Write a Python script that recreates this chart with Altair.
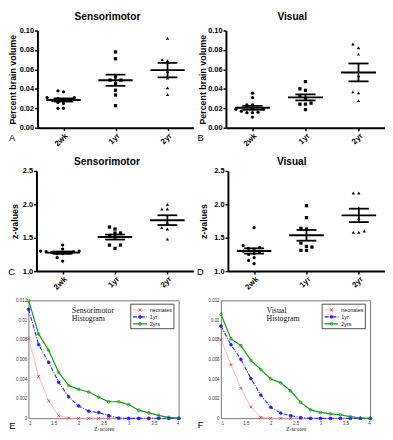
import json
import altair as alt
import numpy as np
import pandas as pd

# ---------------- data ----------------
groups = ["2wk", "1yr", "2yr"]
group_shapes = ["circle", "square", "triangle-up"]

# A: Sensorimotor, percent brain volume
sm_pbv_2wk = [0.038, 0.037, 0.031, 0.031, 0.030, 0.029, 0.028, 0.028, 0.026, 0.025, 0.020, 0.020]
sm_pbv_1yr = [0.078, 0.071, 0.0525, 0.049, 0.049, 0.0454, 0.0386, 0.0337, 0.0227]
sm_pbv_2yr = [0.092, 0.070, 0.069, 0.058, 0.051, 0.041, 0.034]

# B: Visual, percent brain volume
vis_pbv_2wk = [0.0355, 0.031, 0.0235, 0.0235, 0.019, 0.0195, 0.019, 0.017, 0.016, 0.0155, 0.0155, 0.011]
vis_pbv_1yr = [0.0474, 0.0401, 0.0385, 0.0329, 0.0296, 0.0253, 0.0243, 0.0243, 0.0187]
vis_pbv_2yr = [0.0862, 0.0823, 0.0757, 0.0534, 0.037, 0.036, 0.0279]

# C: Sensorimotor, z-values
sm_z_2wk = [1.39, 1.33, 1.30, 1.30, 1.28, 1.29, 1.29, 1.27, 1.26, 1.26, 1.20, 1.15]
sm_z_1yr = [1.66, 1.63, 1.57, 1.57, 1.53, 1.51, 1.39, 1.39, 1.34]
sm_z_2yr = [2.00, 1.93, 1.93, 1.72, 1.65, 1.63, 1.48]

# D: Visual, z-values
vis_z_2wk = [1.65, 1.38, 1.35, 1.34, 1.33, 1.30, 1.29, 1.26, 1.25, 1.20, 1.16, 1.11]
vis_z_1yr = [1.98, 1.80, 1.64, 1.63, 1.42, 1.37, 1.36, 1.31, 1.31]
vis_z_2yr = [2.17, 2.17, 1.95, 1.79, 1.60, 1.58, 1.58]

# E/F: histograms
z_scores = [1.0, 1.2, 1.4, 1.6, 1.8, 2.0, 2.2, 2.4, 2.6, 2.8, 3.0, 3.2, 3.4, 3.6, 3.8, 4.0]
series = ["neonates", "1yr", "2yrs"]
sm_hist_neonates = [0.0081, 0.00428, 0.00179, 0.00027, 0.00003, 0, 0, 0, 0, 0, 0, 0, 0, 0, 0, 0]
sm_hist_1yr = [0.0111, 0.0075, 0.0057, 0.00368, 0.00219, 0.00126, 0.00073, 0.0006, 0.00027, 0.00003, 0, 0, 0, 0, 0, 0]
sm_hist_2yrs = [0.0120, 0.00859, 0.00693, 0.00468, 0.00335, 0.00295, 0.00269, 0.00216, 0.00169, 0.00169,
                0.00139, 0.00083, 0.00056, 0.0003, 0.0001, 0.00002]
vis_hist_neonates = [0.0080, 0.00547, 0.00305, 0.00116, 0.0001, 0, 0, 0, 0, 0, 0, 0, 0, 0, 0, 0]
vis_hist_1yr = [0.0094, 0.0075, 0.0060, 0.00405, 0.00236, 0.00113, 0.00053, 0.00027, 0.00007, 0, 0, 0, 0, 0, 0, 0]
vis_hist_2yrs = [0.01058, 0.0081, 0.0074, 0.0059, 0.00498, 0.00401, 0.00362, 0.00279, 0.00163, 0.00086,
                 0.0006, 0.00046, 0.00036, 0.00017, 0.00003, 0]

line_colors = ["#f5a3b5", "#1f1fff", "#169a16"]
marker_colors = ["#ff1a1a", "#1f1fff", "#169a16"]
marker_fills = ["transparent", "#1f1fff", "transparent"]
marker_shapes = ["M-1,-1L1,1M-1,1L1,-1", "circle", "circle"]
line_dashes = [[1, 0], [4, 1.5, 1, 1.5], [1, 0]]
line_widths = [0.9, 1.2, 1.5]

SANS = "Liberation Sans, Arial, Helvetica, sans-serif"
SERIF = "Liberation Serif, Times New Roman, serif"


def one_row():
    return pd.DataFrame({"k": [0]})


def letter(ch, x, y):
    return alt.Chart(one_row()).mark_text(
        text=ch, align="left", baseline="alphabetic", font=SANS, fontSize=9.5, color="black"
    ).encode(x=alt.value(x), y=alt.value(y))


def swarm_slots(values, px_per_unit, diam=3.9):
    order = np.argsort(values, kind="stable")
    slots = [0] * len(values)
    placed = []
    for i in order:
        y = values[i] * px_per_unit
        for k in [0, -1, 1, -2, 2, -3, 3, -4, 4, -5, 5]:
            if not any(s == k and abs(py - y) < diam for py, s in placed):
                break
        slots[i] = k
        placed.append((y, k))
    return slots


def scatter_panel(lists, title, title_dx, ytitle, ytitle_x, ydom, yvals, yfmt,
                  width, d, plot_h, top, ch, ch_x, ch_dy):
    height = plot_h + top
    pxu = plot_h / (ydom[1] - ydom[0])
    rows = []
    for gi, (g, vals) in enumerate(zip(groups, lists)):
        for v, s in zip(vals, swarm_slots(vals, pxu)):
            rows.append({"group": g, "gi": gi, "value": v, "xp": gi + s * 0.105})
    pts = pd.DataFrame(rows)
    st = pts.groupby(["group", "gi"], sort=False)["value"].agg(["mean", "std", "count"]).reset_index()
    st["sem"] = st["std"] / np.sqrt(st["count"])
    st["lo"] = st["mean"] - st["sem"]
    st["hi"] = st["mean"] + st["sem"]
    st["m0"] = st["gi"] - 0.33
    st["m1"] = st["gi"] + 0.33
    st["c0"] = st["gi"] - 0.19
    st["c1"] = st["gi"] + 0.19

    xscale = alt.Scale(domain=[-0.5, 2.5], range=[d, width], nice=False, zero=False)
    yscale = alt.Scale(domain=ydom, range=[height, top], nice=False, zero=False)
    xaxis = alt.Axis(values=[0, 1, 2], labelExpr=json.dumps(groups) + "[datum.value]", title=None,
                     labelAngle=315, labelFont=SANS, labelFontSize=8, labelFontWeight="bold",
                     labelColor="black", domainColor="black", domainWidth=2, tickColor="black",
                     tickWidth=1.5, tickSize=3, grid=False, labelPadding=1)
    yaxis = alt.Axis(values=yvals, format=yfmt, title=ytitle, titleX=ytitle_x, titleY=top + plot_h / 2,
                     titleBaseline="alphabetic", titleFont=SANS, titleFontSize=9, titleFontWeight="bold",
                     titleColor="black", offset=-d, labelFont=SANS, labelFontSize=7.5,
                     labelFontWeight="bold", labelColor="black", domainColor="black", domainWidth=2,
                     tickColor="black", tickWidth=1.5, tickSize=3, grid=False, labelPadding=1)

    def X(f):
        return alt.X(f, scale=xscale, axis=xaxis)

    def Y(f):
        return alt.Y(f, scale=yscale, axis=yaxis)

    points = alt.Chart(pts).mark_point(filled=True, size=11, color="black", opacity=1).encode(
        x=X("xp:Q"), y=Y("value:Q"),
        shape=alt.Shape("group:N", scale=alt.Scale(domain=groups, range=group_shapes), legend=None),
    )
    base = alt.Chart(st)
    mean_rule = base.mark_rule(color="black", strokeWidth=2).encode(x=X("m0:Q"), x2="m1:Q", y=Y("mean:Q"))
    cap_lo = base.mark_rule(color="black", strokeWidth=1.8).encode(x=X("c0:Q"), x2="c1:Q", y=Y("lo:Q"))
    cap_hi = base.mark_rule(color="black", strokeWidth=1.8).encode(x=X("c0:Q"), x2="c1:Q", y=Y("hi:Q"))
    vert = base.mark_rule(color="black", strokeWidth=1.8).encode(x=X("gi:Q"), y=Y("lo:Q"), y2="hi:Q")

    return alt.layer(points, mean_rule, cap_lo, cap_hi, vert, letter(ch, ch_x, height + ch_dy)).properties(
        width=width, height=height,
        title=alt.TitleParams(title, font=SANS, fontSize=10.3, fontWeight="bold", anchor="middle",
                              frame="group", dx=title_dx, dy=top, offset=4, color="black"),
    )


def hist_panel(lists, title_lines, width, height, lx, ch, ch_x, ch_dy):
    rows = []
    for s, vals in zip(series, lists):
        for z, v in zip(z_scores, vals):
            rows.append({"series": s, "z": z, "density": v})
    df = pd.DataFrame(rows)
    xs = alt.Scale(domain=[1, 4], nice=False, zero=False)
    ys = alt.Scale(domain=[0, 0.012], nice=False, zero=False)
    xaxis = alt.Axis(values=[1, 1.5, 2, 2.5, 3, 3.5, 4], format=".1~f", title="Z-scores",
                     titleFont=SERIF, titleFontSize=6, titleFontWeight="normal", titleColor="#222",
                     titlePadding=1, labelFont=SANS, labelFontSize=4.5, labelColor="#333",
                     labelPadding=2, ticks=False, domain=False, grid=False)
    yaxis = alt.Axis(values=[0, 0.002, 0.004, 0.006, 0.008, 0.01, 0.012], format=".3~f", title=None,
                     labelFont=SANS, labelFontSize=4.5, labelColor="#333", labelPadding=2,
                     ticks=False, domain=False, grid=False)
    color = alt.Color("series:N", scale=alt.Scale(domain=series, range=line_colors), legend=None)
    dash = alt.StrokeDash("series:N", scale=alt.Scale(domain=series, range=line_dashes), legend=None)
    sw = alt.StrokeWidth("series:N", scale=alt.Scale(domain=series, range=line_widths), legend=None)
    shape = alt.Shape("series:N", scale=alt.Scale(domain=series, range=marker_shapes), legend=None)
    stroke = alt.Stroke("series:N", scale=alt.Scale(domain=series, range=marker_colors), legend=None)
    fill = alt.Fill("series:N", scale=alt.Scale(domain=series, range=marker_fills), legend=None)

    lines = alt.Chart(df).mark_line().encode(
        x=alt.X("z:Q", scale=xs, axis=xaxis), y=alt.Y("density:Q", scale=ys, axis=yaxis),
        color=color, strokeDash=dash, strokeWidth=sw,
    )
    marks = alt.Chart(df).mark_point(size=8, opacity=1, strokeWidth=0.8).encode(
        x=alt.X("z:Q", scale=xs, axis=xaxis), y=alt.Y("density:Q", scale=ys, axis=yaxis),
        shape=shape, stroke=stroke, fill=fill,
    )
    title_txt = alt.Chart(one_row()).mark_text(
        text=title_lines, align="left", baseline="alphabetic", font=SERIF, fontSize=8,
        lineHeight=8.5, color="#111"
    ).encode(x=alt.value(lx), y=alt.value(12.6))

    bx0, bx1, by0, by1 = width - 49, width - 5, 3.7, 28.7
    box = alt.Chart(one_row()).mark_rect(fill="white", stroke="black", strokeWidth=0.7).encode(
        x=alt.value(bx0), x2=alt.value(bx1), y=alt.value(by0), y2=alt.value(by1))
    legend_layers = [box]
    for k, s in enumerate(series):
        ly = by0 + 5.9 + k * 7.05
        sub = df[(df["series"] == s) & (df["z"] == z_scores[0])]
        legend_layers.append(alt.Chart(sub).mark_rule().encode(
            x=alt.value(bx0 + 2.4), x2=alt.value(bx0 + 16.5), y=alt.value(ly),
            color=color, strokeDash=dash, strokeWidth=sw))
        legend_layers.append(alt.Chart(sub).mark_point(size=8, opacity=1, strokeWidth=0.8).encode(
            x=alt.value(bx0 + 9.5), y=alt.value(ly), shape=shape, stroke=stroke, fill=fill))
        legend_layers.append(alt.Chart(sub).mark_text(
            align="left", baseline="middle", font=SANS, fontSize=5.5, color="#111").encode(
            x=alt.value(bx0 + 19.5), y=alt.value(ly), text="series:N"))

    return alt.layer(lines, marks, title_txt, *legend_layers, letter(ch, ch_x, height + ch_dy)).properties(
        width=width, height=height, view=alt.ViewBackground(stroke="#555", strokeWidth=0.8)
    )


RES = dict(shape="independent", color="independent", stroke="independent", fill="independent",
           strokeDash="independent", strokeWidth="independent")

pA = scatter_panel([sm_pbv_2wk, sm_pbv_1yr, sm_pbv_2yr], "Sensorimotor", -3.7, "Percent brain volume", -22.2,
                   [0, 0.10], [0, 0.02, 0.04, 0.06, 0.08, 0.10], ".2f", 168, 9, 99, 0, "A", -20, 13.7)
pB = scatter_panel([vis_pbv_2wk, vis_pbv_1yr, vis_pbv_2yr], "Visual", -11, "Percent brain volume", -21.2,
                   [0, 0.10], [0, 0.02, 0.04, 0.06, 0.08, 0.10], ".2f", 167, 5, 99, 0, "B", -24, 13.7)
pC = scatter_panel([sm_z_2wk, sm_z_1yr, sm_z_2yr], "Sensorimotor", -4.2, "z-values", -19.2,
                   [1.0, 2.5], [1.0, 1.5, 2.0, 2.5], ".1f", 168, 8, 102, 14, "C", -20.7, 3.5)
pD = scatter_panel([vis_z_2wk, vis_z_1yr, vis_z_2yr], "Visual", -11.5, "z-values", -22,
                   [1.0, 2.5], [1.0, 1.5, 2.0, 2.5], ".1f", 167, 7, 102, 14, "D", -24.6, 4)
pE = hist_panel([sm_hist_neonates, sm_hist_1yr, sm_hist_2yrs], ["Sensorimotor", "Histogram"],
                153, 120, 44, "E", -19.7, 11)
pF = hist_panel([vis_hist_neonates, vis_hist_1yr, vis_hist_2yrs], ["Visual", "Histogram"],
                152, 120, 46.3, "F", -23.7, 10)

chart = (
    alt.concat(pA, pB, pC, pD, pE, pF, columns=2, spacing={"row": 30, "column": 28}, bounds="flush")
    .resolve_scale(**RES)
    .properties(padding=0)
    .configure_view(stroke=None)
)

chart.save("out.html", embed_options={"renderer": "svg", "actions": False})
